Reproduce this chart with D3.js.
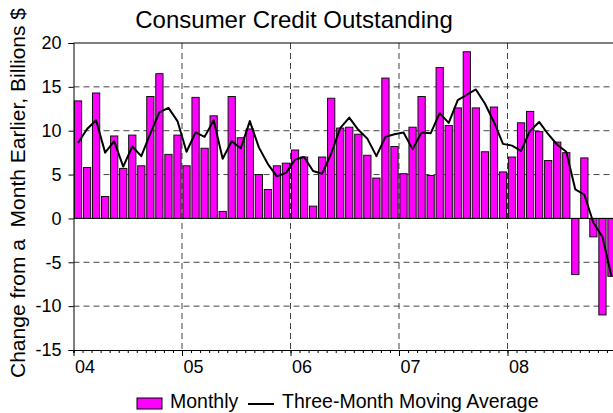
<!DOCTYPE html>
<html>
<head>
<meta charset="utf-8">
<script src="https://cdn.jsdelivr.net/npm/d3@7"></script>
<style>
  body { margin: 0; background: #fff; }
  svg { display: block; font-family: "Liberation Sans", Arial, sans-serif; }
</style>
</head>
<body>
<svg id="drawing_region"></svg>
<script>
// year labels, one per January
const years = ["04", "05", "06", "07", "08"];

// monthly change, Jan 2004 .. Dec 2008 (billions $)
const monthly = [
    13.4, 5.8, 14.3, 2.5, 9.4, 5.7, 9.5, 6.0, 13.9, 16.5, 7.3, 9.5,
    6.0, 13.8, 8.0, 11.7, 0.8, 13.9, 9.2, 10.2, 5.0, 3.3, 6.0, 6.3,
    7.8, 7.0, 1.4, 7.0, 13.7, 10.3, 10.4, 9.6, 7.2, 4.6, 16.0, 8.2,
    5.1, 10.4, 13.9, 4.9, 17.2, 10.6, 12.6, 19.0, 12.6, 7.6, 12.7, 5.3,
    7.0, 10.9, 12.2, 9.9, 6.6, 8.7, 7.5, -6.4, 6.9, -2.1, -11.0, -6.6
];

// three-month moving average, same months
const movingAvg = [
    8.6, 10.2, 11.2, 7.5, 8.8, 5.9, 8.2, 7.1, 9.7, 12.1, 12.6, 11.1,
    7.6, 9.8, 9.3, 11.2, 6.8, 8.8, 8.0, 11.1, 8.1, 6.2, 4.8, 5.2,
    6.7, 7.0, 5.4, 5.1, 7.4, 10.3, 11.5, 10.1, 9.1, 7.1, 9.3, 9.6,
    9.8, 7.9, 9.8, 9.7, 12.0, 10.9, 13.5, 14.1, 14.7, 13.1, 11.0, 8.5,
    8.3, 7.7, 10.0, 11.0, 9.6, 8.4, 7.6, 3.3, 2.7, -0.5, -2.1, -6.6
];

const yTicks = [-15, -10, -5, 0, 5, 10, 15, 20];

const config = {
    width: 613,
    height: 413,
    margin: {top: 43, right: -3, bottom: 63, left: 73.5}
};

const svg = d3.select('#drawing_region')
    .attr('width', config.width)
    .attr('height', config.height);

const inner_width = config.width - config.margin.left - config.margin.right;
const inner_height = config.height - config.margin.top - config.margin.bottom;

const chart = svg.append('g')
    .attr('transform', `translate(${config.margin.left}, ${config.margin.top})`);

const xscale = d3.scaleLinear()
    .domain([0, monthly.length])
    .range([0, inner_width]);

const yscale = d3.scaleLinear()
    .domain([-15, 20])
    .range([inner_height, 0]);

// horizontal grid
chart.append('g')
    .selectAll('line')
    .data(yTicks.filter(d => d !== 0 && d !== 20 && d !== -15))
    .join('line')
    .attr('x1', 0)
    .attr('x2', inner_width)
    .attr('y1', d => yscale(d))
    .attr('y2', d => yscale(d))
    .attr('stroke', '#444')
    .attr('stroke-width', 1)
    .attr('stroke-dasharray', '6,4');

// vertical grid at each January
chart.append('g')
    .selectAll('line')
    .data(years.slice(1))
    .join('line')
    .attr('x1', (d, i) => xscale((i + 1) * 12))
    .attr('x2', (d, i) => xscale((i + 1) * 12))
    .attr('y1', 0)
    .attr('y2', inner_height)
    .attr('stroke', '#444')
    .attr('stroke-width', 1)
    .attr('stroke-dasharray', '6,4');

// bars
const bw = xscale(1) - xscale(0);
chart.append('g')
    .selectAll('rect')
    .data(monthly)
    .join('rect')
    .attr('x', (d, i) => xscale(i) + 0.9)
    .attr('y', d => yscale(Math.max(0, d)))
    .attr('width', bw - 1.8)
    .attr('height', d => Math.abs(yscale(d) - yscale(0)))
    .attr('fill', '#ff00ff')
    .attr('stroke', '#111')
    .attr('stroke-width', 1);

// zero line
chart.append('line')
    .attr('x1', 0)
    .attr('x2', inner_width)
    .attr('y1', yscale(0))
    .attr('y2', yscale(0))
    .attr('stroke', '#000')
    .attr('stroke-width', 1);

// moving average line
const line = d3.line()
    .x((d, i) => xscale(i + 0.5))
    .y(d => yscale(d));

chart.append('path')
    .datum(movingAvg)
    .attr('d', line)
    .attr('fill', 'none')
    .attr('stroke', '#000')
    .attr('stroke-width', 2)
    .attr('stroke-linejoin', 'round');

// frame top
chart.append('line')
    .attr('x1', 0)
    .attr('x2', inner_width)
    .attr('y1', 0)
    .attr('y2', 0)
    .attr('stroke', '#000');

// y axis
const yaxis = d3.axisLeft(yscale)
    .tickValues(yTicks)
    .tickSize(5)
    .tickPadding(7)
    .tickFormat(d => String(d));

const yaxis_group = chart.append('g')
    .call(yaxis);
yaxis_group.select('.domain').attr('stroke', '#000');
yaxis_group.selectAll('text')
    .attr('font-size', 18)
    .attr('fill', '#000')
    .style('font-family', '"Liberation Sans", Arial, sans-serif');

// x axis: monthly minor ticks, longer ticks at Januaries
const xaxis_minor = d3.axisBottom(xscale)
    .tickValues(d3.range(0, monthly.length + 1))
    .tickSize(3)
    .tickFormat('');

const xaxis_group = chart.append('g')
    .attr('transform', `translate(0, ${inner_height})`)
    .call(xaxis_minor);
xaxis_group.select('.domain').attr('stroke', '#000');

const xaxis_major = d3.axisBottom(xscale)
    .tickValues(years.map((d, i) => i * 12))
    .tickSize(6)
    .tickFormat((d, i) => years[i]);

const xmajor_group = chart.append('g')
    .attr('transform', `translate(0, ${inner_height})`)
    .call(xaxis_major);
xmajor_group.select('.domain').remove();
xmajor_group.selectAll('text')
    .attr('text-anchor', 'start')
    .attr('x', 1)
    .attr('y', 7)
    .attr('dy', '0.9em')
    .attr('font-size', 18)
    .attr('fill', '#000')
    .style('font-family', '"Liberation Sans", Arial, sans-serif');

// title
svg.append('text')
    .attr('x', 294)
    .attr('y', 28)
    .attr('text-anchor', 'middle')
    .attr('font-size', 24)
    .text('Consumer Credit Outstanding');

// y axis title
svg.append('text')
    .attr('transform', `translate(25, 193) rotate(-90)`)
    .attr('text-anchor', 'middle')
    .attr('font-size', 21)
    .style('white-space', 'pre')
    .text('Change from a  Month Earlier, Billions $');

// legend
const legend = svg.append('g')
    .attr('transform', 'translate(137, 398)');

legend.append('rect')
    .attr('x', 0)
    .attr('y', 0)
    .attr('width', 25)
    .attr('height', 11)
    .attr('fill', '#ff00ff')
    .attr('stroke', '#000');

legend.append('text')
    .attr('x', 33)
    .attr('y', 10)
    .attr('font-size', 19.5)
    .text('Monthly');

legend.append('line')
    .attr('x1', 111)
    .attr('x2', 137)
    .attr('y1', 6)
    .attr('y2', 6)
    .attr('stroke', '#000')
    .attr('stroke-width', 2);

legend.append('text')
    .attr('x', 145)
    .attr('y', 10)
    .attr('font-size', 19.5)
    .text('Three-Month Moving Average');
</script>
</body>
</html>
